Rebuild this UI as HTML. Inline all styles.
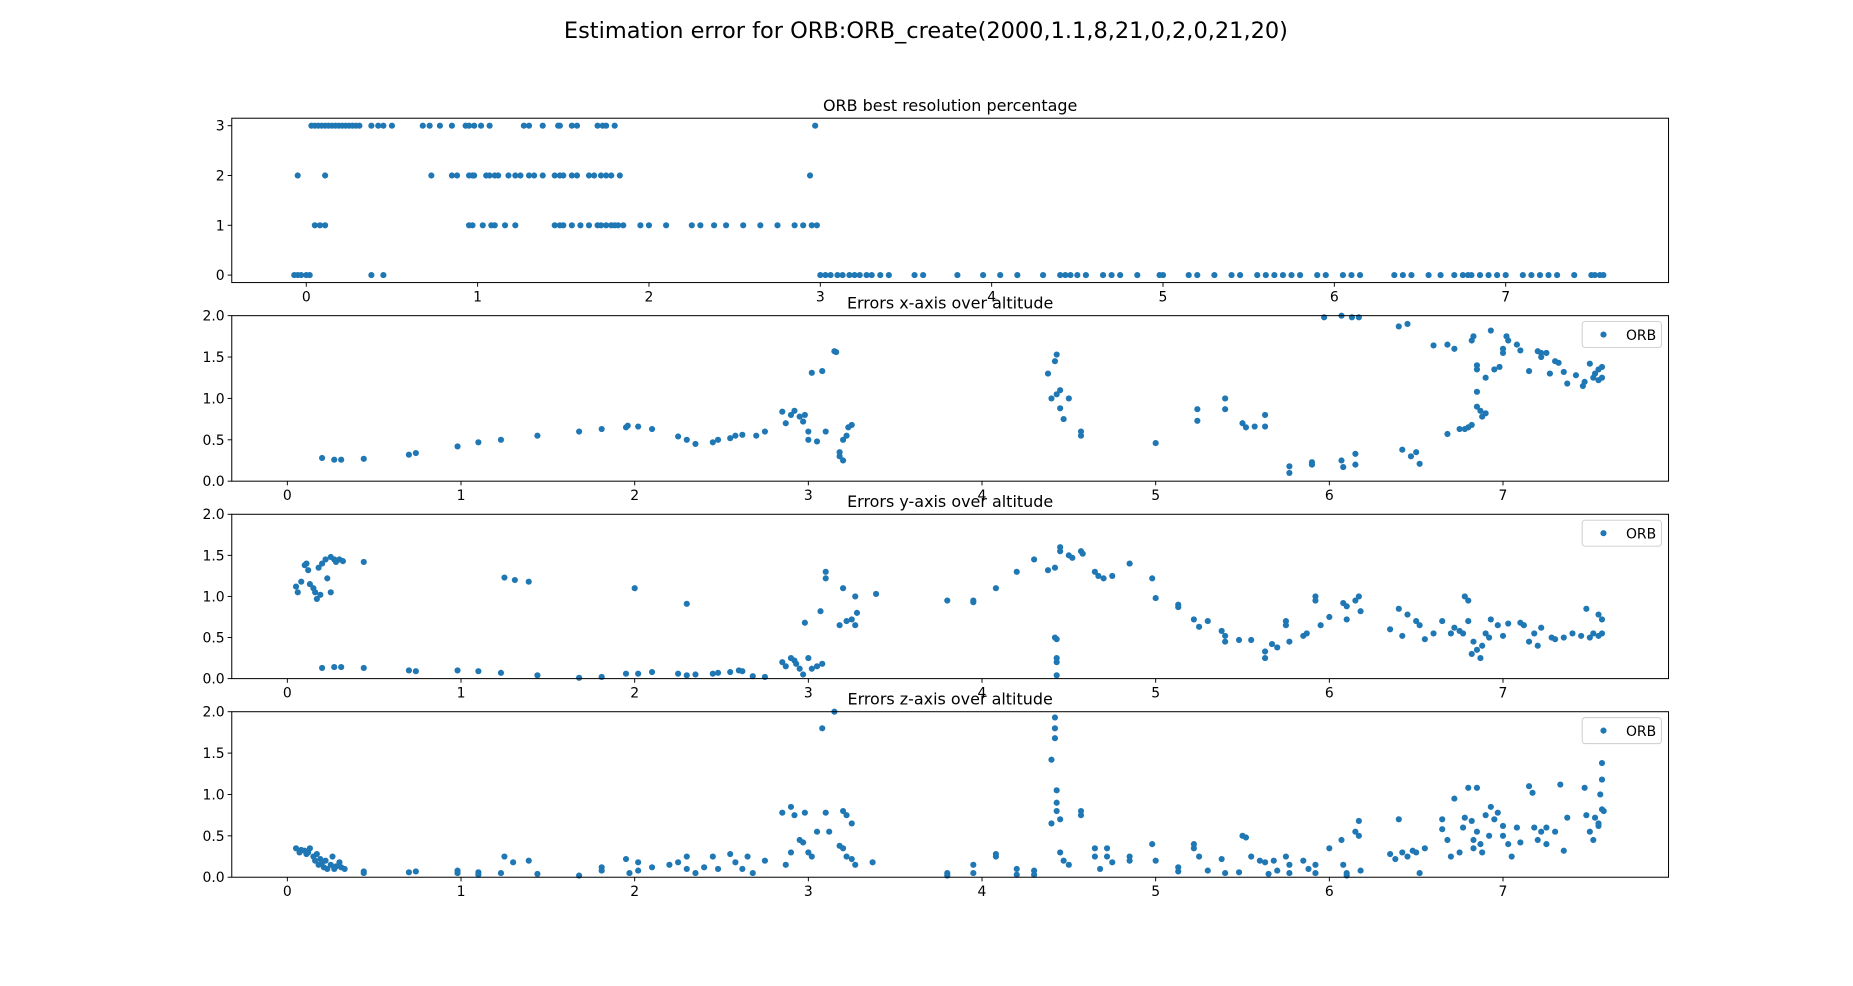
<!DOCTYPE html>
<html><head><meta charset="utf-8"><style>
html,body{margin:0;padding:0;background:#fff;}
svg{display:block;font-family:"DejaVu Sans","Liberation Sans",sans-serif;}
</style></head><body>
<svg id="fig" width="1853" height="986" viewBox="0 0 1567 834" preserveAspectRatio="none" xmlns="http://www.w3.org/2000/svg">
<text x="783" y="32" text-anchor="middle" font-size="19">Estimation error for ORB:ORB_create(2000,1.1,8,21,0,2,0,21,20)</text>
</svg>
<script>
const resY3=[0.03,0.05,0.07,0.09,0.11,0.13,0.15,0.17,0.19,0.21,0.23,0.25,0.27,0.29,0.31,0.38,0.42,0.45,0.5,0.68,0.72,0.78,0.85,0.93,0.95,0.98,1.02,1.07,1.27,1.3,1.38,1.47,1.48,1.55,1.58,1.7,1.73,1.75,1.8,2.97];
const resY2=[-0.05,0.11,0.73,0.85,0.88,0.95,0.97,0.98,1.05,1.07,1.1,1.12,1.18,1.22,1.25,1.3,1.33,1.38,1.45,1.48,1.5,1.55,1.58,1.65,1.68,1.72,1.75,1.78,1.83,2.94];
const resY1=[0.05,0.08,0.11,0.95,0.97,1.03,1.08,1.1,1.16,1.22,1.45,1.48,1.5,1.55,1.6,1.65,1.7,1.72,1.75,1.78,1.8,1.82,1.85,1.95,2.0,2.1,2.25,2.3,2.38,2.45,2.55,2.65,2.75,2.85,2.9,2.95,2.98];
const resY0=[-0.07,-0.05,-0.03,0.0,0.02,0.38,0.45,3.0,3.03,3.06,3.1,3.13,3.17,3.2,3.23,3.27,3.3,3.35,3.4,3.55,3.6,3.8,3.95,4.05,4.15,4.3,4.4,4.43,4.46,4.5,4.55,4.65,4.7,4.75,4.85,4.98,5.0,5.15,5.2,5.3,5.4,5.45,5.55,5.6,5.65,5.7,5.75,5.8,5.9,5.95,6.05,6.1,6.15,6.35,6.4,6.45,6.55,6.62,6.7,6.75,6.78,6.8,6.85,6.9,6.95,7.0,7.1,7.15,7.2,7.25,7.3,7.4,7.5,7.52,7.55,7.57];
const errX=[[0.2,0.28],[0.27,0.26],[0.31,0.26],[0.44,0.27],[0.7,0.32],[0.74,0.34],[0.98,0.42],[1.1,0.47],[1.23,0.5],[1.44,0.55],[1.68,0.6],[1.81,0.63],[1.95,0.65],[1.96,0.67],[2.02,0.66],[2.1,0.63],[2.25,0.54],[2.3,0.5],[2.35,0.45],[2.45,0.47],[2.48,0.5],[2.55,0.52],[2.58,0.55],[2.62,0.56],[2.7,0.55],[2.75,0.6],[2.85,0.84],[2.87,0.7],[2.9,0.8],[2.92,0.85],[2.95,0.78],[2.97,0.72],[2.98,0.8],[3.0,0.6],[3.0,0.5],[3.02,1.31],[3.05,0.48],[3.08,1.33],[3.1,0.6],[3.15,1.57],[3.16,1.56],[3.18,0.3],[3.18,0.35],[3.2,0.5],[3.22,0.55],[3.23,0.65],[3.25,0.68],[3.2,0.25],[4.38,1.3],[4.4,1.0],[4.42,1.45],[4.43,1.53],[4.43,1.05],[4.45,1.1],[4.45,0.88],[4.47,0.75],[4.5,1.0],[4.57,0.55],[4.57,0.6],[5.0,0.46],[5.24,0.87],[5.24,0.73],[5.4,1.0],[5.4,0.87],[5.5,0.7],[5.52,0.65],[5.57,0.66],[5.63,0.8],[5.63,0.66],[5.77,0.18],[5.77,0.1],[5.9,0.2],[5.9,0.23],[5.97,1.98],[6.07,2.0],[6.07,0.25],[6.08,0.17],[6.13,1.98],[6.15,0.33],[6.15,0.2],[6.17,1.98],[6.4,1.87],[6.42,0.38],[6.45,1.9],[6.47,0.3],[6.5,0.35],[6.52,0.21],[6.6,1.64],[6.68,1.65],[6.68,0.57],[6.72,1.6],[6.75,0.63],[6.78,0.63],[6.8,0.65],[6.82,1.7],[6.82,0.68],[6.83,1.75],[6.85,1.4],[6.85,1.35],[6.85,1.08],[6.85,0.9],[6.87,0.85],[6.88,0.78],[6.9,0.82],[6.9,1.25],[6.93,1.82],[6.95,1.35],[6.98,1.38],[7.0,1.55],[7.0,1.6],[7.02,1.75],[7.03,1.7],[7.08,1.65],[7.1,1.58],[7.15,1.33],[7.2,1.57],[7.22,1.55],[7.22,1.5],[7.25,1.55],[7.27,1.3],[7.3,1.45],[7.32,1.43],[7.35,1.32],[7.37,1.18],[7.42,1.28],[7.46,1.15],[7.47,1.2],[7.5,1.42],[7.52,1.25],[7.53,1.3],[7.55,1.22],[7.55,1.35],[7.57,1.38],[7.57,1.25]];
const errY=[[0.05,1.12],[0.06,1.05],[0.08,1.18],[0.1,1.38],[0.11,1.4],[0.12,1.32],[0.13,1.15],[0.15,1.1],[0.16,1.05],[0.17,0.97],[0.18,1.35],[0.19,1.02],[0.2,1.4],[0.22,1.45],[0.23,1.22],[0.25,1.05],[0.25,1.48],[0.27,1.45],[0.28,1.42],[0.3,1.45],[0.32,1.43],[0.44,1.42],[1.25,1.23],[1.31,1.2],[1.39,1.18],[2.0,1.1],[2.3,0.91],[2.98,0.68],[3.07,0.82],[3.1,1.22],[3.1,1.3],[3.18,0.65],[3.2,1.1],[3.22,0.7],[3.25,0.72],[3.27,1.0],[3.28,0.8],[3.27,0.65],[3.39,1.03],[3.8,0.95],[3.95,0.95],[3.95,0.93],[4.08,1.1],[4.2,1.3],[4.3,1.45],[4.38,1.32],[4.42,1.35],[4.45,1.55],[4.45,1.6],[4.5,1.5],[4.52,1.47],[4.57,1.55],[4.58,1.52],[4.65,1.3],[4.67,1.25],[4.7,1.22],[4.75,1.25],[4.85,1.4],[4.98,1.22],[5.0,0.98],[5.13,0.9],[5.13,0.87],[5.22,0.72],[5.25,0.63],[5.3,0.7],[5.38,0.58],[5.4,0.52],[5.4,0.45],[5.48,0.47],[5.55,0.47],[5.63,0.33],[5.63,0.25],[5.67,0.42],[5.7,0.38],[5.75,0.7],[5.75,0.65],[5.77,0.45],[5.85,0.52],[5.87,0.55],[5.92,1.0],[5.92,0.95],[5.95,0.65],[6.0,0.75],[6.08,0.92],[6.1,0.88],[6.1,0.72],[6.15,0.95],[6.17,1.0],[6.18,0.82],[6.35,0.6],[6.4,0.85],[6.42,0.52],[6.45,0.78],[6.5,0.7],[6.52,0.65],[6.55,0.48],[6.6,0.55],[6.65,0.7],[6.7,0.55],[6.72,0.62],[6.75,0.58],[6.77,0.55],[6.78,1.0],[6.8,0.95],[6.8,0.7],[6.82,0.3],[6.83,0.45],[6.85,0.35],[6.87,0.25],[6.88,0.4],[6.9,0.55],[6.92,0.5],[6.93,0.72],[6.97,0.65],[7.0,0.52],[7.03,0.67],[7.1,0.68],[7.12,0.65],[7.15,0.45],[7.18,0.55],[7.2,0.4],[7.22,0.62],[7.28,0.5],[7.3,0.48],[7.35,0.5],[7.4,0.55],[7.45,0.52],[7.48,0.85],[7.5,0.5],[7.52,0.55],[7.55,0.78],[7.55,0.52],[7.57,0.72],[7.57,0.55],[0.2,0.13],[0.27,0.14],[0.31,0.14],[0.44,0.13],[0.7,0.1],[0.74,0.09],[0.98,0.1],[1.1,0.09],[1.23,0.07],[1.44,0.04],[1.68,0.01],[1.81,0.02],[1.95,0.06],[2.02,0.06],[2.1,0.08],[2.25,0.06],[2.3,0.04],[2.35,0.05],[2.45,0.06],[2.48,0.07],[2.55,0.08],[2.6,0.1],[2.62,0.09],[2.68,0.03],[2.75,0.02],[2.85,0.2],[2.87,0.15],[2.9,0.25],[2.92,0.22],[2.93,0.18],[2.95,0.12],[2.97,0.05],[3.0,0.25],[3.02,0.12],[3.05,0.15],[3.08,0.18],[4.42,0.5],[4.43,0.48],[4.43,0.25],[4.43,0.2],[4.43,0.04]];
const errZ=[[0.05,0.35],[0.07,0.3],[0.08,0.33],[0.1,0.32],[0.11,0.28],[0.12,0.3],[0.13,0.35],[0.15,0.25],[0.16,0.2],[0.17,0.28],[0.18,0.15],[0.19,0.22],[0.2,0.18],[0.21,0.12],[0.22,0.2],[0.23,0.1],[0.25,0.15],[0.26,0.25],[0.27,0.1],[0.28,0.13],[0.3,0.18],[0.31,0.12],[0.33,0.1],[0.44,0.07],[0.44,0.05],[0.7,0.06],[0.74,0.07],[0.98,0.08],[0.98,0.05],[1.1,0.06],[1.1,0.03],[1.23,0.05],[1.25,0.25],[1.3,0.18],[1.39,0.2],[1.44,0.04],[1.68,0.02],[1.81,0.12],[1.81,0.08],[1.95,0.22],[1.97,0.05],[2.02,0.18],[2.02,0.08],[2.1,0.12],[2.2,0.15],[2.25,0.18],[2.3,0.25],[2.3,0.1],[2.35,0.05],[2.4,0.12],[2.45,0.25],[2.48,0.1],[2.55,0.28],[2.58,0.18],[2.62,0.1],[2.65,0.25],[2.68,0.05],[2.75,0.2],[2.85,0.78],[2.87,0.15],[2.9,0.85],[2.9,0.3],[2.92,0.75],[2.95,0.45],[2.97,0.42],[2.98,0.78],[3.0,0.3],[3.02,0.25],[3.05,0.55],[3.08,1.8],[3.1,0.78],[3.12,0.55],[3.15,2.0],[3.18,0.38],[3.2,0.8],[3.22,0.75],[3.2,0.35],[3.22,0.25],[3.25,0.22],[3.25,0.65],[3.27,0.15],[3.37,0.18],[3.8,0.05],[3.8,0.02],[3.95,0.15],[3.95,0.05],[4.08,0.28],[4.08,0.25],[4.2,0.1],[4.2,0.03],[4.3,0.08],[4.3,0.03],[4.4,0.65],[4.4,1.42],[4.42,1.93],[4.42,1.8],[4.42,1.68],[4.43,1.05],[4.43,0.9],[4.43,0.8],[4.45,0.7],[4.45,0.3],[4.47,0.2],[4.5,0.15],[4.57,0.8],[4.57,0.75],[4.65,0.35],[4.65,0.25],[4.68,0.1],[4.72,0.35],[4.72,0.25],[4.75,0.18],[4.85,0.25],[4.85,0.2],[4.98,0.4],[5.0,0.2],[5.13,0.12],[5.13,0.07],[5.22,0.4],[5.22,0.35],[5.25,0.25],[5.3,0.08],[5.38,0.22],[5.4,0.05],[5.48,0.06],[5.5,0.5],[5.52,0.48],[5.55,0.25],[5.6,0.2],[5.63,0.18],[5.65,0.04],[5.68,0.2],[5.7,0.08],[5.75,0.25],[5.77,0.15],[5.77,0.05],[5.85,0.2],[5.88,0.1],[5.92,0.15],[5.92,0.05],[6.0,0.35],[6.07,0.45],[6.08,0.15],[6.1,0.05],[6.1,0.02],[6.15,0.55],[6.17,0.68],[6.17,0.5],[6.18,0.08],[6.35,0.28],[6.38,0.22],[6.4,0.7],[6.42,0.3],[6.45,0.25],[6.48,0.32],[6.5,0.3],[6.52,0.05],[6.55,0.35],[6.65,0.7],[6.65,0.58],[6.68,0.45],[6.7,0.25],[6.72,0.95],[6.75,0.3],[6.77,0.6],[6.78,0.72],[6.8,1.08],[6.82,0.68],[6.83,0.45],[6.83,0.35],[6.85,1.08],[6.85,0.55],[6.87,0.4],[6.88,0.3],[6.9,0.75],[6.92,0.5],[6.93,0.85],[6.95,0.7],[6.97,0.78],[7.0,0.5],[7.0,0.62],[7.03,0.4],[7.05,0.25],[7.08,0.6],[7.1,0.42],[7.15,1.1],[7.17,1.02],[7.18,0.6],[7.2,0.45],[7.22,0.55],[7.25,0.6],[7.25,0.4],[7.3,0.55],[7.33,1.12],[7.35,0.32],[7.37,0.72],[7.47,1.08],[7.48,0.75],[7.5,0.55],[7.52,0.45],[7.53,0.72],[7.55,0.62],[7.55,0.65],[7.56,1.0],[7.57,1.18],[7.57,1.38],[7.57,0.82],[7.58,0.8]];
const xTicks=[0,1,2,3,4,5,6,7];
const yTicksRes=[0,1,2,3];
const yTicksErr=[0.0,0.5,1.0,1.5,2.0];
const yTickLabelsErr=["0.0","0.5","1.0","1.5","2.0"];

const NS="http://www.w3.org/2000/svg";
const svg=document.getElementById('fig');
function mk(tag,attrs,parent){const e=document.createElementNS(NS,tag);for(const k in attrs)e.setAttribute(k,attrs[k]);(parent||svg).appendChild(e);return e;}
const L=196,R=1411;
function panel(name,top,bottom,xmin,xmax,ymin,ymax,yt,ytl,title,pts,legend){
  const g=mk('g',{});
  
  
  const sx=v=>L+(v-xmin)/(xmax-xmin)*(R-L);
  const sy=v=>bottom-(v-ymin)/(ymax-ymin)*(bottom-top);
  const t=mk('text',{x:(L+R)/2,y:top-6,'text-anchor':'middle','font-size':13.5},g);t.textContent=title;
  
  
  const dg=mk('g',{fill:'#1f77b4'},g);
  
  
  pts.forEach(p=>{const c=mk('circle',{cx:sx(p[0]),cy:sy(p[1]),r:2.6},dg);
    
    });
  const fr=mk('rect',{x:L,y:top,width:R-L,height:bottom-top,fill:'none',stroke:'#000','stroke-width':0.85},g);
  
  
  xTicks.forEach(v=>{const x=sx(v);mk('line',{x1:x,x2:x,y1:bottom,y2:bottom+3.5,stroke:'#000','stroke-width':0.8},g);
    const tx=mk('text',{x:x,y:bottom+16,'text-anchor':'middle','font-size':11.8},g);tx.textContent=v;
    
    });
  yt.forEach((v,i)=>{const y=sy(v);mk('line',{x1:L-3.5,x2:L,y1:y,y2:y,stroke:'#000','stroke-width':0.8},g);
    const ty=mk('text',{x:L-6,y:y+4.2,'text-anchor':'end','font-size':11.8},g);ty.textContent=ytl[i];
    
    });
  if(legend){const lg=mk('g',{},g);
    
    
    mk('rect',{x:1338,y:top+5,width:67,height:22,rx:2.5,fill:'#fff','fill-opacity':0.8,stroke:'#ccc','stroke-width':0.8},lg);
    mk('circle',{cx:1356,cy:top+16,r:2.6,fill:'#1f77b4'},lg);
    const lt=mk('text',{x:1375,y:top+20.5,'font-size':11.8},lg);lt.textContent='ORB';
    
    }
}
const resPts=[].concat(resY3.map(x=>[x,3]),resY2.map(x=>[x,2]),resY1.map(x=>[x,1]),resY0.map(x=>[x,0]));
const ppu1=144.9, x01=259, ppu=146.86, x0=243;
panel('resolution-panel',100,239,(L-x01)/ppu1,(R-x01)/ppu1,-0.15,3.15,yTicksRes,yTicksRes.map(String),'ORB best resolution percentage',resPts,false);
panel('x-error-panel',267,407,(L-x0)/ppu,(R-x0)/ppu,0,2,yTicksErr,yTickLabelsErr,'Errors x-axis over altitude',errX,true);
panel('y-error-panel',435,574,(L-x0)/ppu,(R-x0)/ppu,0,2,yTicksErr,yTickLabelsErr,'Errors y-axis over altitude',errY,true);
panel('z-error-panel',602,742,(L-x0)/ppu,(R-x0)/ppu,0,2,yTicksErr,yTickLabelsErr,'Errors z-axis over altitude',errZ,true);
</script>
</body></html>
